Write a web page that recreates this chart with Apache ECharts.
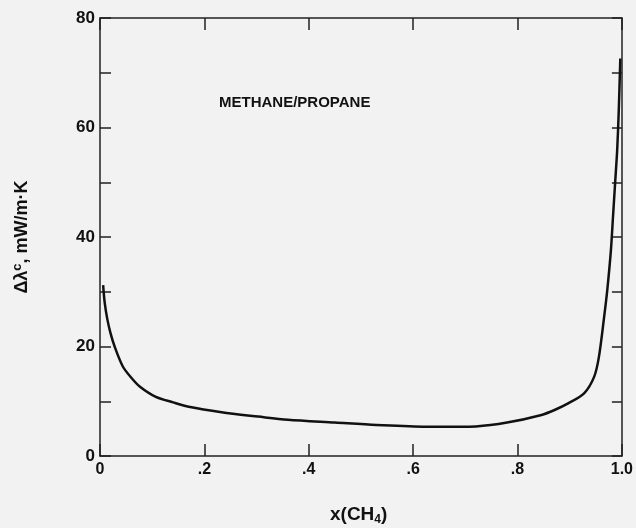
<!DOCTYPE html>
<html>
<head>
<meta charset="utf-8">
<script src="https://cdn.jsdelivr.net/npm/echarts@6/dist/echarts.min.js"></script>
<style>
html,body{margin:0;padding:0;background:#f2f2f2;}
#chart{width:636px;height:528px;}
</style>
</head>
<body>
<div id="chart"></div>
<script>
const xValues = [0.006, 0.009, 0.014, 0.02, 0.028, 0.044, 0.06, 0.076, 0.107, 0.14, 0.17, 0.233, 0.303, 0.36, 0.45, 0.53, 0.625, 0.688, 0.72, 0.78, 0.846, 0.871, 0.897, 0.928, 0.947, 0.956, 0.966, 0.972, 0.979, 0.983, 0.987, 0.991, 0.994, 0.997];
const yValues = [31.2, 28.0, 25.0, 22.5, 20, 16.3, 14.3, 12.7, 10.8, 9.8, 9.0, 8.0, 7.2, 6.6, 6.1, 5.66, 5.35, 5.35, 5.4, 6.1, 7.5, 8.4, 9.6, 11.5, 14.5, 18.1, 25.4, 30.3, 37.6, 43.7, 49.8, 55.9, 63, 72.6];
const xTickLabels = {0: '0', 0.2: '.2', 0.4: '.4', 0.6: '.6', 0.8: '.8', 1: '1.0'};
const yLabelled = [0, 20, 40, 60, 80];
const annotation = 'METHANE/PROPANE';

const FONT = '"Liberation Sans Narrow", "Liberation Sans", Arial, sans-serif';
const chart = echarts.init(document.getElementById('chart'));
const axisLine = {show: true, onZero: false, lineStyle: {color: '#222', width: 1.5}};
const tickStyle = {color: '#222', width: 1.5};

chart.setOption({
  backgroundColor: '#f2f2f2',
  animation: false,
  grid: {left: 100, right: 8, top: 18, bottom: 72, containLabel: false},
  title: {
    text: annotation, left: 214, top: 90,
    textStyle: {fontFamily: FONT, fontWeight: 'bold', fontSize: 15, color: '#111'}
  },
  graphic: [
    {type: 'text', left: 330, top: 505, style: {
      text: '{a|x(CH}{s|4}{a|)}', x: 0, y: 0,
      rich: {
        a: {fontFamily: FONT, fontWeight: 'bold', fontSize: 19, fill: '#111'},
        s: {fontFamily: FONT, fontWeight: 'bold', fontSize: 12, fill: '#111', verticalAlign: 'bottom', padding: [10, 0, 0, 0]}
      }
    }}
  ],
  xAxis: [
    {type: 'value', min: 0, max: 1, interval: 0.2, position: 'bottom',
     axisLine: axisLine,
     axisTick: {show: true, inside: true, length: 12, lineStyle: tickStyle},
     splitLine: {show: false},
     axisLabel: {margin: 6, fontFamily: FONT, fontWeight: 'bold', fontSize: 16, color: '#111',
       formatter: v => xTickLabels[Math.round(v * 10) / 10] ?? ''}
    },
    {type: 'value', min: 0, max: 1, interval: 0.2, position: 'top',
     axisLine: axisLine,
     axisTick: {show: true, inside: true, length: 12, lineStyle: tickStyle},
     splitLine: {show: false}, axisLabel: {show: false}
    }
  ],
  yAxis: [
    {type: 'value', min: 0, max: 80, interval: 10, position: 'left',
     name: '{a|Δλ}{s|c}{a|, mW/m·K}', nameLocation: 'middle', nameGap: 66, nameRotate: 90,
     nameTextStyle: {rich: {
       a: {fontFamily: FONT, fontWeight: 'bold', fontSize: 18, color: '#111'},
       s: {fontFamily: FONT, fontWeight: 'bold', fontSize: 13, color: '#111', verticalAlign: 'top', padding: [0, 0, 10, 0]}
     }},
     axisLine: axisLine,
     axisTick: {show: true, inside: true, length: 11, lineStyle: tickStyle},
     splitLine: {show: false},
     axisLabel: {margin: 5, fontFamily: FONT, fontWeight: 'bold', fontSize: 17, color: '#111',
       formatter: v => yLabelled.includes(v) ? String(v) : ''}
    },
    {type: 'value', min: 0, max: 80, interval: 10, position: 'right',
     axisLine: axisLine,
     axisTick: {show: true, inside: true, length: 10, lineStyle: tickStyle},
     splitLine: {show: false}, axisLabel: {show: false}
    }
  ],
  series: [{
    type: 'line', xAxisIndex: 0, yAxisIndex: 0,
    data: xValues.map((x, i) => [x, yValues[i]]),
    smooth: 0.3, showSymbol: false, symbol: 'none',
    lineStyle: {color: '#111', width: 2.5}
  }]
});
</script>
</body>
</html>
